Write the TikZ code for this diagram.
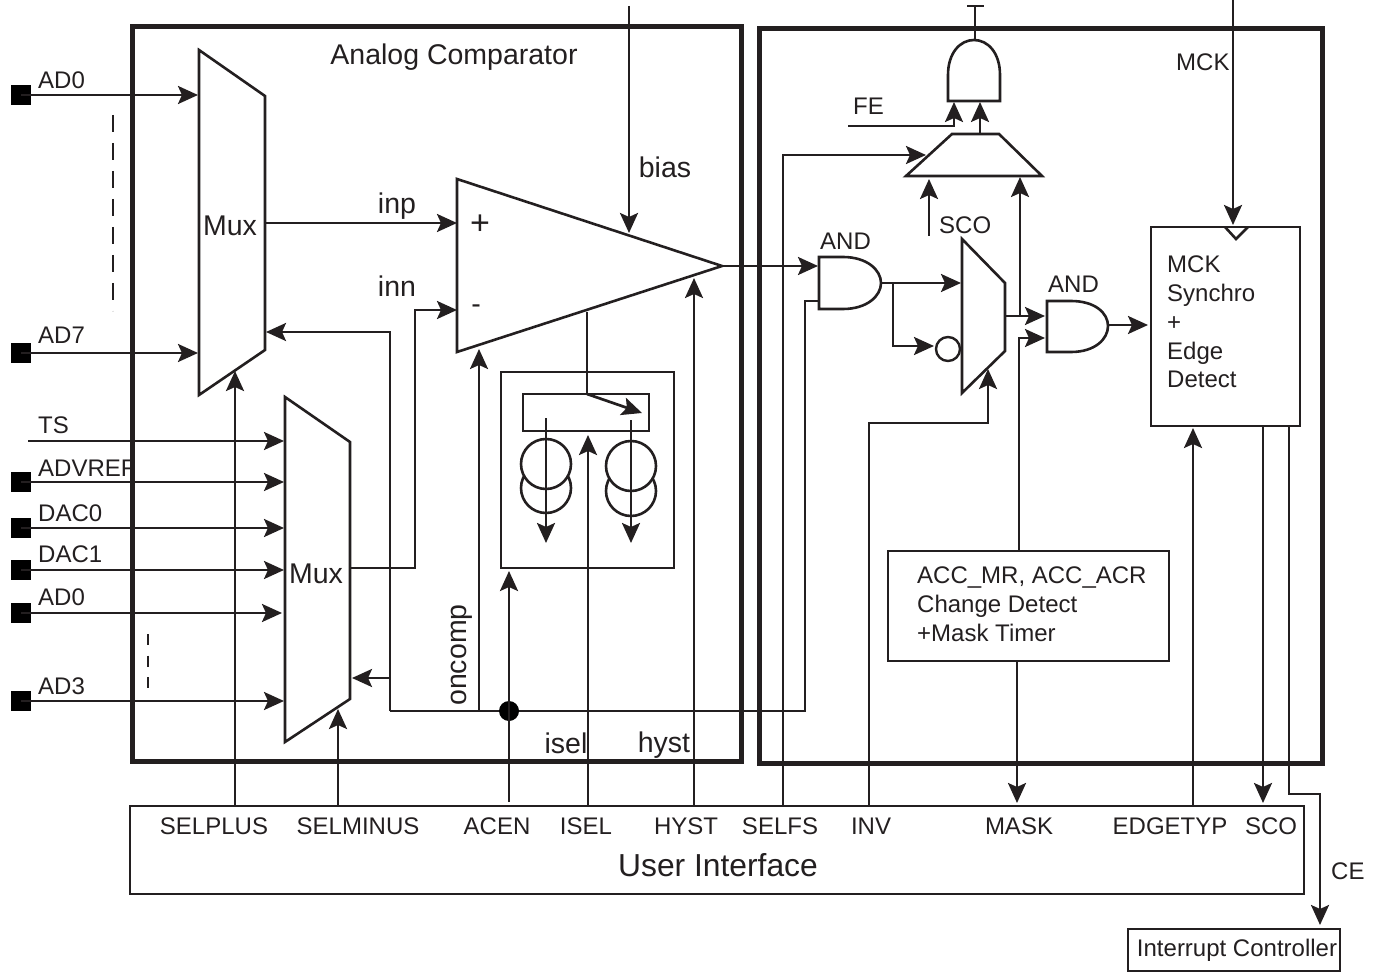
\documentclass[tikz,border=0pt]{standalone}
\usepackage{fontspec}
\setmainfont{Liberation Sans}
\usetikzlibrary{arrows.meta}
\definecolor{ink}{HTML}{231F20}
\tikzset{
  wire/.style={draw=ink,line width=2.7pt,line join=miter},
  thinwire/.style={draw=ink,line width=1.7pt},
  arr/.style={wire,-{Stealth[length=20pt,width=18pt,inset=4pt]}},
  frame/.style={draw=ink,line width=5pt,inner sep=0,outer sep=0,anchor=north west},
  boxn/.style={draw=ink,line width=2.6pt,inner sep=0,outer sep=0,anchor=north west},
  gate/.style={draw=ink,line width=2.6pt,line join=miter},
  pad/.style={fill=black,inner sep=0,minimum size=20pt},
  lab/.style={text=ink,font=\fontsize{24}{24}\selectfont,inner sep=0,anchor=west},
  biglab/.style={text=ink,font=\fontsize{28.5}{28.5}\selectfont,inner sep=0},
}
\begin{document}
\begin{tikzpicture}[x=1pt,y=-1pt]
\useasboundingbox (0,0) rectangle (1378,973);
\node[lab] (l4) at (38,468) {ADVREF};
% frames
\node[frame,minimum width=609pt,minimum height=734pt] (analog) at (132,27) {};
\node[frame,minimum width=563pt,minimum height=734pt] (digital) at (759,29) {};
% boxes
\node[boxn,minimum width=173pt,minimum height=196pt] (ladder) at (501,372) {};
\node[boxn,minimum width=126pt,minimum height=37pt] (rail) at (523,394) {};
\node[boxn,minimum width=281pt,minimum height=110pt] (maskbox) at (888,551) {};
\node[boxn,minimum width=149pt,minimum height=199pt] (sync) at (1151,227) {};
\node[boxn,minimum width=1174pt,minimum height=88pt] (ui) at (130,806) {};
\node[boxn,minimum width=212pt,minimum height=42pt] (irq) at (1128,929) {};
% pads
\foreach \n/\y in {pa/95,pb/353,pc/482,pd/528,pe/570,pf/613,pg/701}
  \node[pad] (\n) at (21,\y) {};
% multiplexers, comparator, gates
\draw[gate] (199,50) -- (265,96) -- (265,350) -- (199,395) -- cycle;
\draw[gate] (285,397) -- (350,442) -- (350,699) -- (285,742) -- cycle;
\draw[gate] (457,179) -- (722,266) -- (457,352) -- cycle;
\draw[gate] (962,239) -- (1005,283) -- (1005,351) -- (962,393) -- cycle;
\draw[gate] (906,176) -- (952,134) -- (999,134) -- (1042,176) -- cycle;
\draw[gate] (819,257) -- (843,257) .. controls (867,257) and (881,270) .. (881,283) .. controls (881,296) and (867,309) .. (843,309) -- (819,309) -- cycle;
\draw[gate] (1047,301) -- (1071,301) .. controls (1095,301) and (1108,313) .. (1108,326) .. controls (1108,339) and (1095,352) .. (1071,352) -- (1047,352) -- cycle;
\draw[gate] (948,101) -- (948,75) .. controls (948,53) and (960,40) .. (974,40) .. controls (988,40) and (1000,53) .. (1000,75) -- (1000,101) -- cycle;
\node[circle,draw=ink,line width=2.4pt,inner sep=0,minimum size=24pt] (inv) at (948,349) {};
\draw[gate] (1225,227) -- (1236,239) -- (1248,227);
% coordinates
\coordinate (dotc) at (509,711);
\coordinate (w390) at (390,711);
\coordinate (w805) at (805,711);
\coordinate (tpin) at (975,40);
\coordinate (ttop) at (975,6);
\coordinate (cout) at (722,266);
% input wires top mux
\draw[arr] (pa.center) -- (198,95);
\draw[arr] (pb.center) -- (198,353);
\draw[thinwire,dash pattern=on 17pt off 11pt] (113,115) -- (113,311);
% input wires bottom mux
\coordinate (tsin) at (28,441);
\draw[arr] (tsin) -- (284,441);
\draw[arr] (pc.center) -- (284,482);
\draw[arr] (pd.center) -- (284,528);
\draw[arr] (pe.center) -- (284,570);
\draw[arr] (pf.center) -- (282,613);
\draw[arr] (pg.center) -- (284,701);
\draw[wire,dash pattern=on 11pt off 10.5pt] (148,634) -- (148,688);
% mux outputs
\draw[arr] (265,223) -- (457,223);
\draw[arr] (351,568) -- (415,568) -- (415,310) -- (457,310);
% selection feedback
\draw[wire] (w390) -- (dotc);
\draw[arr] (w390) -- (390,332) -- (266,332);
\draw[arr] (390,678) -- (352,678);
\draw[thinwire] (dotc) -- (w805) -- (805,301) -- (819,301);
\draw[arr] (479,711) -- (479,349);
\fill[black] (dotc) circle (10pt);
% UI up wires
\draw[arr] (235,806) -- (235,371);
\draw[arr] (338,806) -- (338,709);
\draw[arr] (509,802) -- (509,571);
\draw[arr] (588,806) -- (588,435);
\draw[arr] (694,806) -- (694,278);
\draw[arr] (783,806) -- (783,155) -- (926,155);
\draw[arr] (869,806) -- (869,423) -- (988,423) -- (988,369);
\draw[arr] (1193,806) -- (1193,428);
% comparator attachments
\draw[arr] (629,6) -- (629,233);
\draw[wire] (587,312) -- (587,394);
\draw[arr] (587,394) -- (642,413);
\draw[gate] (546,488) circle (25pt);
\draw[gate,fill=white] (546,464) circle (25pt);
\draw[gate] (631,491) circle (25pt);
\draw[gate,fill=white] (631,466) circle (25pt);
\draw[arr] (546,418) -- (546,543);
\draw[arr] (631,420) -- (631,543);
% digital wires
\draw[arr] (cout) -- (818,266);
\draw[arr] (881,283) -- (961,283);
\draw[arr] (893,283) -- (893,346) -- (934,346);
\draw[arr] (1005,316) -- (1045,316);
\draw[arr] (1019,551) -- (1019,338) -- (1045,338);
\draw[arr] (1020,316) -- (1020,177);
\draw[arr] (1108,325) -- (1148,325);
\draw[arr] (929,236) -- (929,179);
\draw[arr] (980,134) -- (980,102);
\draw[arr] (848,126) -- (954,126) -- (954,102);
\draw[wire] (tpin) -- (ttop);
\draw[thinwire] (967,6) -- (984,6);
\draw[arr] (1233,0) -- (1233,225);
\draw[arr] (1017,661) -- (1017,803);
\draw[arr] (1263,426) -- (1263,803);
\draw[arr] (1289,426) -- (1289,794) -- (1320,794) -- (1320,925);
% labels
\node[biglab] (t1) at (454,57) {Analog Comparator};
\node[biglab] (t2) at (230,226) {Mux};
\node[biglab] (t3) at (316,574) {Mux};
\node[biglab] (t4) at (397,206) {inp};
\node[biglab] (t5) at (397,286) {inn};
\node[biglab] (t6) at (665,167) {bias};
\node[biglab,rotate=90] (t7) at (462,655) {oncomp};
\node[biglab] (t8) at (566,743) {isel};
\node[biglab] (t9) at (664,745) {hyst};
\node[text=ink,font=\fontsize{34}{34}\selectfont,inner sep=0] (t10) at (480,224.5) {+};
\node[biglab] (t11) at (476,309) {-};
\node[text=ink,font=\fontsize{31.8}{31.8}\selectfont,inner sep=0] (t12) at (718,865) {User Interface};
\node[lab] (l1) at (38,80) {AD0};
\node[lab] (l2) at (38,335) {AD7};
\node[lab] (l3) at (38,425) {TS};
\node[lab] (l5) at (38,513) {DAC0};
\node[lab] (l6) at (38,554) {DAC1};
\node[lab] (l7) at (38,597) {AD0};
\node[lab] (l8) at (38,686) {AD3};
\node[lab] (l9) at (853,106) {FE};
\node[lab] (l10) at (939,225) {SCO};
\node[lab] (l11) at (820,241) {AND};
\node[lab] (l12) at (1048,284) {AND};
\node[lab] (l13) at (1176,62) {MCK};
\node[lab] (l14) at (1331,871) {CE};
\node[lab,anchor=base west] (m1) at (1167,272.5) {MCK};
\node[lab,anchor=base west] (m2) at (1167,301.5) {Synchro};
\node[lab,anchor=base west] (m3) at (1167,330.5) {+};
\node[lab,anchor=base west] (m4) at (1167,359.5) {Edge};
\node[lab,anchor=base west] (m5) at (1167,387.5) {Detect};
\node[lab,anchor=base west] (k1) at (917,583) {ACC\_MR, ACC\_ACR};
\node[lab,anchor=base west] (k2) at (917,612) {Change Detect};
\node[lab,anchor=base west] (k3) at (917,641) {+Mask Timer};
\foreach \n/\x/\s in {u1/214/SELPLUS,u2/358/SELMINUS,u3/497/ACEN,u4/586/ISEL,u5/686/HYST,u6/780/SELFS,u7/871/INV,u8/1019/MASK,u9/1170/EDGETYP,u10/1271/SCO}
  \node[lab,anchor=center] (\n) at (\x,826) {\s};
\node[lab,anchor=center] (irqt) at (1237,950.5) {Interrupt Controller};
\end{tikzpicture}
\end{document}
